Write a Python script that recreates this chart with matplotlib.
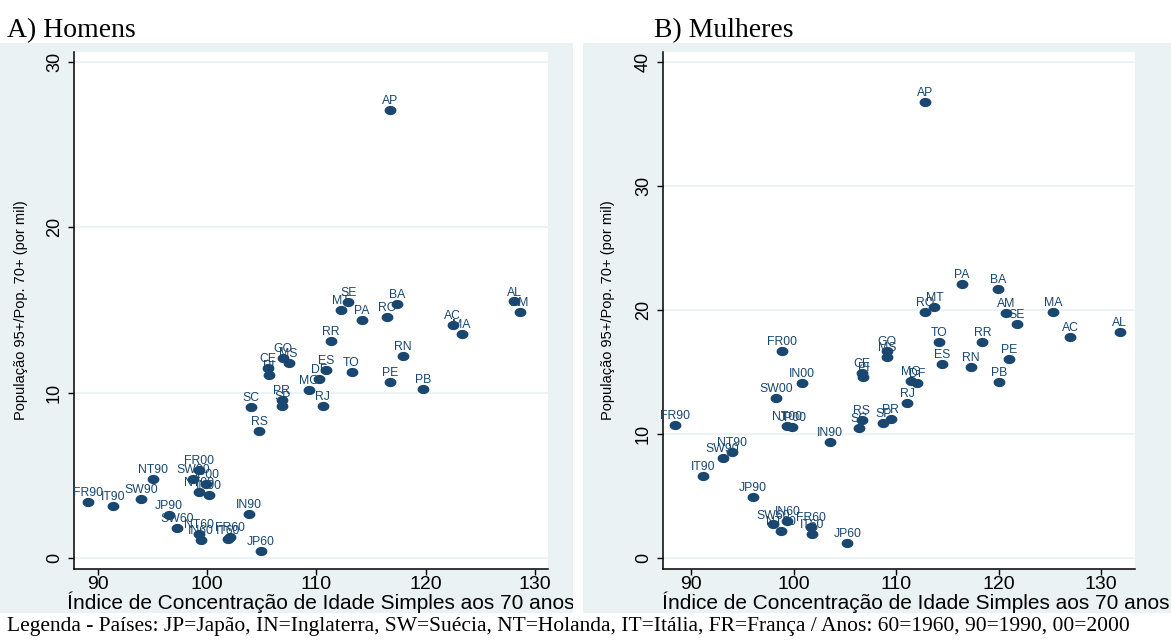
import numpy as np
import matplotlib
matplotlib.use('Agg')
from matplotlib import pyplot as plt
from matplotlib.patches import Rectangle
from matplotlib.path import Path
from matplotlib.transforms import Bbox, TransformedBbox

# ---- data ----
labels_a = ['AP', 'SE', 'MT', 'BA', 'PA', 'RO', 'AL', 'AM', 'AC', 'MA', 'RR', 'RN',
            'GO', 'MS', 'CE', 'PI', 'ES', 'DF', 'TO', 'MG', 'PE', 'PB', 'SC', 'PR',
            'SP', 'RJ', 'RS',
            'FR90', 'IT90', 'SW90', 'NT90', 'JP90', 'IN90',
            'FR00', 'SW00', 'JP00', 'NT00', 'IN00',
            'SW60', 'NT60', 'IN60', 'FR60', 'IT60', 'JP60']
x_a = [116.70, 112.91, 112.24, 117.40, 114.16, 116.45, 128.11, 128.66, 122.47, 123.29,
       111.30, 117.94, 106.90, 107.45, 105.56, 105.62, 110.87, 110.26, 113.22, 109.35,
       116.73, 119.78, 104.00, 106.81, 106.87, 110.57, 104.77,
       89.06, 91.40, 93.94, 95.00, 96.50, 103.80,
       99.27, 98.73, 99.85, 99.27, 100.16,
       97.20, 99.27, 99.40, 102.05, 101.90, 104.90]
y_a = [27.08, 15.47, 15.02, 15.35, 14.38, 14.56, 15.51, 14.86, 14.10, 13.53,
       13.15, 12.22, 12.08, 11.80, 11.49, 11.07, 11.37, 10.83, 11.23, 10.18,
       10.67, 10.22, 9.15, 9.56, 9.18, 9.21, 7.68,
       3.41, 3.15, 3.57, 4.80, 2.60, 2.66,
       5.32, 4.76, 4.46, 3.97, 3.83,
       1.83, 1.43, 1.09, 1.25, 1.12, 0.44]

labels_b = ['AP', 'PA', 'BA', 'RO', 'MT', 'AM', 'SE', 'MA', 'AL', 'AC', 'TO', 'RR',
            'GO', 'MS', 'PE', 'ES', 'RN', 'CE', 'PI', 'MG', 'DF', 'PB', 'RJ', 'PR',
            'SP', 'RS', 'SC',
            'FR90', 'NT90', 'SW90', 'IT90', 'JP90', 'IN90',
            'FR00', 'SW00', 'IN00', 'NT00', 'JP00',
            'SW60', 'NT60', 'IN60', 'FR60', 'IT60', 'JP60']
x_b = [112.83, 116.41, 119.92, 112.83, 113.74, 120.70, 121.77, 125.32, 131.82, 126.98,
       114.20, 118.42, 109.09, 109.15, 121.06, 114.52, 117.30, 106.65, 106.81, 111.43,
       112.02, 120.05, 111.10, 109.48, 108.76, 106.65, 106.36,
       88.44, 94.03, 93.09, 91.20, 96.02, 103.56,
       98.91, 98.29, 100.80, 99.33, 99.88,
       98.03, 98.78, 99.40, 101.71, 101.83, 105.25]
y_b = [36.75, 22.07, 21.72, 19.86, 20.24, 19.73, 18.90, 19.86, 18.20, 17.80,
       17.42, 17.40, 16.72, 16.24, 16.05, 15.62, 15.40, 14.94, 14.62, 14.30,
       14.14, 14.19, 12.52, 11.21, 10.91, 11.13, 10.46,
       10.73, 8.52, 8.09, 6.61, 4.95, 9.38,
       16.69, 12.88, 14.09, 10.67, 10.59,
       2.71, 2.20, 2.96, 2.53, 1.94, 1.18]

xticks = [90, 100, 110, 120, 130]
yticks_a = [0, 10, 20, 30]
yticks_b = [0, 10, 20, 30, 40]

XLABEL = 'Índice de Concentração de Idade Simples aos 70 anos'
YLABEL = 'População 95+/Pop. 70+ (por mil)'
LEGEND = ('Legenda - Países: JP=Japão, IN=Inglaterra, SW=Suécia, NT=Holanda, '
          'IT=Itália, FR=França / Anos: 60=1960, 90=1990, 00=2000')

# ---- style ----
W, H = 1171, 641
NAVY = '#1a476f'
BG = '#eaf2f3'
SANS = ['Liberation Sans', 'DejaVu Sans']
SERIF = ['Liberation Serif', 'DejaVu Serif']

plt.rcParams['font.family'] = SANS

t = np.linspace(0, 2 * np.pi, 64)
ELLIPSE = Path(np.column_stack([np.cos(t), 0.78 * np.sin(t)]), closed=True)


def fx(px):
    return px / W


def fy(py):
    return 1 - py / H


def panel(fig, box, labels, xs, ys, xlim, ylim, yticks, ylab_x):
    left, top, right, bottom = box
    ax = fig.add_axes([fx(left), fy(bottom), fx(right - left), (bottom - top) / H])
    ax.set_facecolor('white')
    ax.set_axisbelow(True)
    ax.yaxis.grid(True, color=BG, linewidth=1.3)
    ax.plot(xs, ys, linestyle='none', marker=ELLIPSE, markersize=8.5,
            markerfacecolor=NAVY, markeredgecolor=NAVY, markeredgewidth=0)
    for lab, x, y in zip(labels, xs, ys):
        ax.annotate(lab, (x, y), xytext=(0, 4.2), textcoords='offset points',
                    ha='center', va='baseline', fontsize=8.8, color=NAVY)
    ax.set_xlim(*xlim)
    ax.set_ylim(*ylim)
    ax.set_xticks(xticks)
    ax.set_yticks(yticks)
    for s in ['top', 'right']:
        ax.spines[s].set_visible(False)
    for s in ['left', 'bottom']:
        ax.spines[s].set_linewidth(1.1)
        ax.spines[s].set_color('black')
    ax.tick_params(direction='out', length=4.5, width=1, color='black')
    ax.tick_params(axis='x', labelsize=14, pad=0.5)
    ax.tick_params(axis='y', labelsize=13, labelrotation=90, pad=3.5)
    for tl in ax.get_yticklabels():
        tl.set_va('center')
    ax.set_ylabel(YLABEL, fontsize=10.5)
    ax.yaxis.set_label_coords((ylab_x - left) / (right - left), 0.5)
    return ax


fig = plt.figure(figsize=(W / 100, H / 100), dpi=100)

# graph regions (light background) of the two panels, in pixels
region_a = (0, 43, 573, 613)
region_b = (583, 43, W, 613)


def region_rect(r):
    x0, y0, x1, y1 = r
    return Rectangle((fx(x0), fy(y1)), fx(x1 - x0), (y1 - y0) / H,
                     transform=fig.transFigure, facecolor=BG, edgecolor='none', zorder=-5)


def region_box(r):
    x0, y0, x1, y1 = r
    return TransformedBbox(Bbox([[fx(x0), fy(y1)], [fx(x1), fy(y0)]]), fig.transFigure)


fig.patches.extend([region_rect(region_a), region_rect(region_b)])

panel(fig, (74, 52, 548, 569), labels_a, x_a, y_a, (87.8, 131.2), (-0.67, 30.6),
      yticks_a, 28)
panel(fig, (663, 52, 1135, 569), labels_b, x_b, y_b, (87.27, 133.3), (-0.89, 40.8),
      yticks_b, 615)

fig.text(fx(7), fy(31), 'A) Homens', family=SERIF, fontsize=20, va='center', ha='left')
fig.text(fx(654), fy(31), 'B) Mulheres', family=SERIF, fontsize=20, va='center', ha='left')

xa = fig.text(fx(321), fy(602), XLABEL, fontsize=15, ha='center', va='center')
xa.set_clip_box(region_box(region_a))
xa.set_clip_on(True)
xb = fig.text(fx(916), fy(602), XLABEL, fontsize=15, ha='center', va='center')
xb.set_clip_box(region_box(region_b))
xb.set_clip_on(True)

fig.text(fx(7), fy(626), LEGEND, family=SERIF, fontsize=15.5, ha='left', va='center')

fig.savefig('out.png', dpi=100)
